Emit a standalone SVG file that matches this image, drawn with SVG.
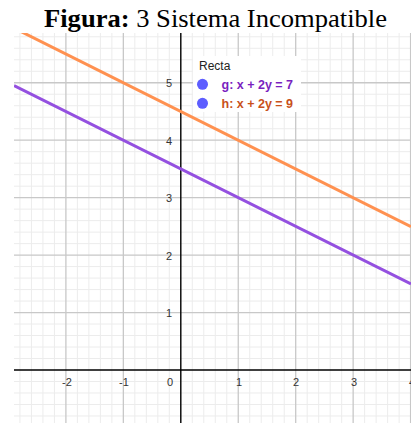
<svg xmlns="http://www.w3.org/2000/svg" width="411" height="423" viewBox="0 0 411 423">
<defs>
<style>
.minor{stroke:#ececec;stroke-width:1;fill:none}
.major{stroke:#c8c8c8;stroke-width:1.3;fill:none}
.axis{stroke:#000;stroke-width:1.4;fill:none}
.tick{font-family:"Liberation Sans",Arial,sans-serif;font-size:11px;fill:#333;text-anchor:middle}
.leg{font-family:"Liberation Sans",Arial,sans-serif;font-size:12.5px;font-weight:bold}
.dot{fill:#5d5dff}
</style>
<clipPath id="plot"><rect x="14" y="33" width="397" height="390"/></clipPath>
</defs>
<rect width="411" height="423" fill="#fff"/>
<g id="title">
<text x="44" y="26.5" textLength="343" lengthAdjust="spacingAndGlyphs" font-family="'Liberation Serif','Times New Roman',serif" font-size="26" fill="#000"><tspan font-weight="bold">Figura:</tspan> 3 Sistema Incompatible</text>
</g>
<g id="grid" clip-path="url(#plot)">
<path class="minor" d="M19.94 33V423M31.43 33V423M42.92 33V423M54.41 33V423M77.39 33V423M88.88 33V423M100.37 33V423M111.86 33V423M134.84 33V423M146.33 33V423M157.82 33V423M169.31 33V423M192.29 33V423M203.78 33V423M215.27 33V423M226.76 33V423M249.74 33V423M261.23 33V423M272.72 33V423M284.21 33V423M307.19 33V423M318.68 33V423M330.17 33V423M341.66 33V423M364.64 33V423M376.13 33V423M387.62 33V423M399.11 33V423
M14 36.79H411M14 48.28H411M14 59.77H411M14 71.26H411M14 94.24H411M14 105.73H411M14 117.22H411M14 128.71H411M14 151.69H411M14 163.18H411M14 174.67H411M14 186.16H411M14 209.14H411M14 220.63H411M14 232.12H411M14 243.61H411M14 266.59H411M14 278.08H411M14 289.57H411M14 301.06H411M14 324.04H411M14 335.53H411M14 347.02H411M14 358.51H411M14 381.49H411M14 392.98H411M14 404.47H411M14 415.96H411"/>
<path class="major" d="M65.9 33V423M123.35 33V423M238.25 33V423M295.7 33V423M353.15 33V423M410.6 33V423M14 82.75H411M14 140.2H411M14 197.65H411M14 255.1H411M14 312.55H411"/>
<path class="axis" d="M180.8 33V423M14 370H411"/>
</g>
<g id="ticks" class="tick">
<text x="67" y="386">-2</text>
<text x="124" y="386">-1</text>
<text x="170" y="386">0</text>
<text x="239" y="386">1</text>
<text x="296" y="386">2</text>
<text x="354" y="386">3</text>
<text x="412" y="386">4</text>
<text x="169" y="87">5</text>
<text x="169" y="144.5">4</text>
<text x="169" y="202">3</text>
<text x="169" y="259.5">2</text>
<text x="169" y="317">1</text>
</g>
<g id="connectors" clip-path="url(#plot)">
<line id="line-h" x1="14" y1="28.07" x2="411" y2="226.58" stroke="#ff9150" stroke-width="3"/>
<line id="line-g" x1="14" y1="85.52" x2="411" y2="284.03" stroke="#9450e0" stroke-width="3"/>
</g>
<g id="legend">
<rect x="193" y="56" width="108" height="56" fill="#fff"/>
<text x="199" y="70" font-family="'Liberation Sans',Arial,sans-serif" font-size="12" fill="#222">Recta</text>
<circle class="dot" cx="202.5" cy="84.3" r="5.5"/>
<circle class="dot" cx="202.5" cy="103.3" r="5.5"/>
<text class="leg" x="221.5" y="88.5" fill="#7a1fc0">g: x + 2y = 7</text>
<text class="leg" x="221.5" y="107.5" fill="#c8501a">h: x + 2y = 9</text>
</g>
</svg>
